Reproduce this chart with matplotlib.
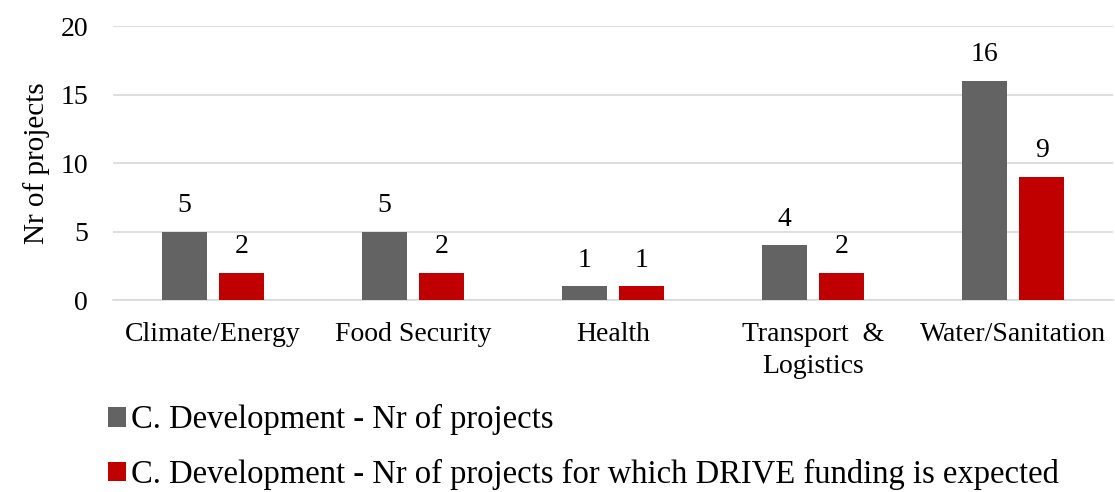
import matplotlib.pyplot as plt
import numpy as np

plt.rcParams['font.family'] = ['Liberation Serif', 'DejaVu Serif']

categories = ['Climate/Energy', 'Food Security', 'Health', 'Transport  &\nLogistics', 'Water/Sanitation']
nr_projects = [5, 5, 1, 4, 16]
nr_drive = [2, 2, 1, 2, 9]
series_names = ['C. Development - Nr of projects',
                'C. Development - Nr of projects for which DRIVE funding is expected']

grey = '#636363'
red = '#C00000'

fig = plt.figure(figsize=(11.15, 4.92), dpi=100, facecolor='white')
ax = fig.add_axes([0.1013, 0.39, 0.897, 0.557])

x = np.arange(len(categories))
w = 0.225
b1 = ax.bar(x - 0.1425, nr_projects, w, color=grey, label=series_names[0], zorder=3)
b2 = ax.bar(x + 0.1425, nr_drive, w, color=red, label=series_names[1], zorder=3)

for bars in (b1, b2):
    for r in bars:
        ax.text(r.get_x() + r.get_width() / 2, r.get_height() + 1.0, str(int(r.get_height())),
                ha='center', va='bottom', fontsize=20)

ax.set_xlim(-0.5, len(categories) - 0.5)
ax.set_ylim(0, 20)
ax.set_yticks([0, 5, 10, 15, 20])
ax.set_xticks(x)
ax.set_xticklabels(categories, fontsize=20, linespacing=1.35)
ax.tick_params(axis='y', labelsize=20, length=0, pad=18)
ax.tick_params(axis='x', length=0, pad=16)
ax.yaxis.grid(True, color='#d9d9d9', linewidth=1.2, zorder=0)
for s in ['top', 'right', 'left']:
    ax.spines[s].set_visible(False)
ax.spines['bottom'].set_color('#d9d9d9')
ax.spines['bottom'].set_linewidth(1.2)
ax.set_ylabel('Nr of projects', fontsize=21, labelpad=7)

fig.legend(handles=[b1, b2], loc='upper left', bbox_to_anchor=(0.097, 0.178),
           ncol=1, frameon=False, fontsize=23.5, handlelength=0.55, handleheight=0.55,
           handletextpad=0.15, labelspacing=0.72, borderaxespad=0, borderpad=0)

fig.savefig('out.png', dpi=100, facecolor='white')
